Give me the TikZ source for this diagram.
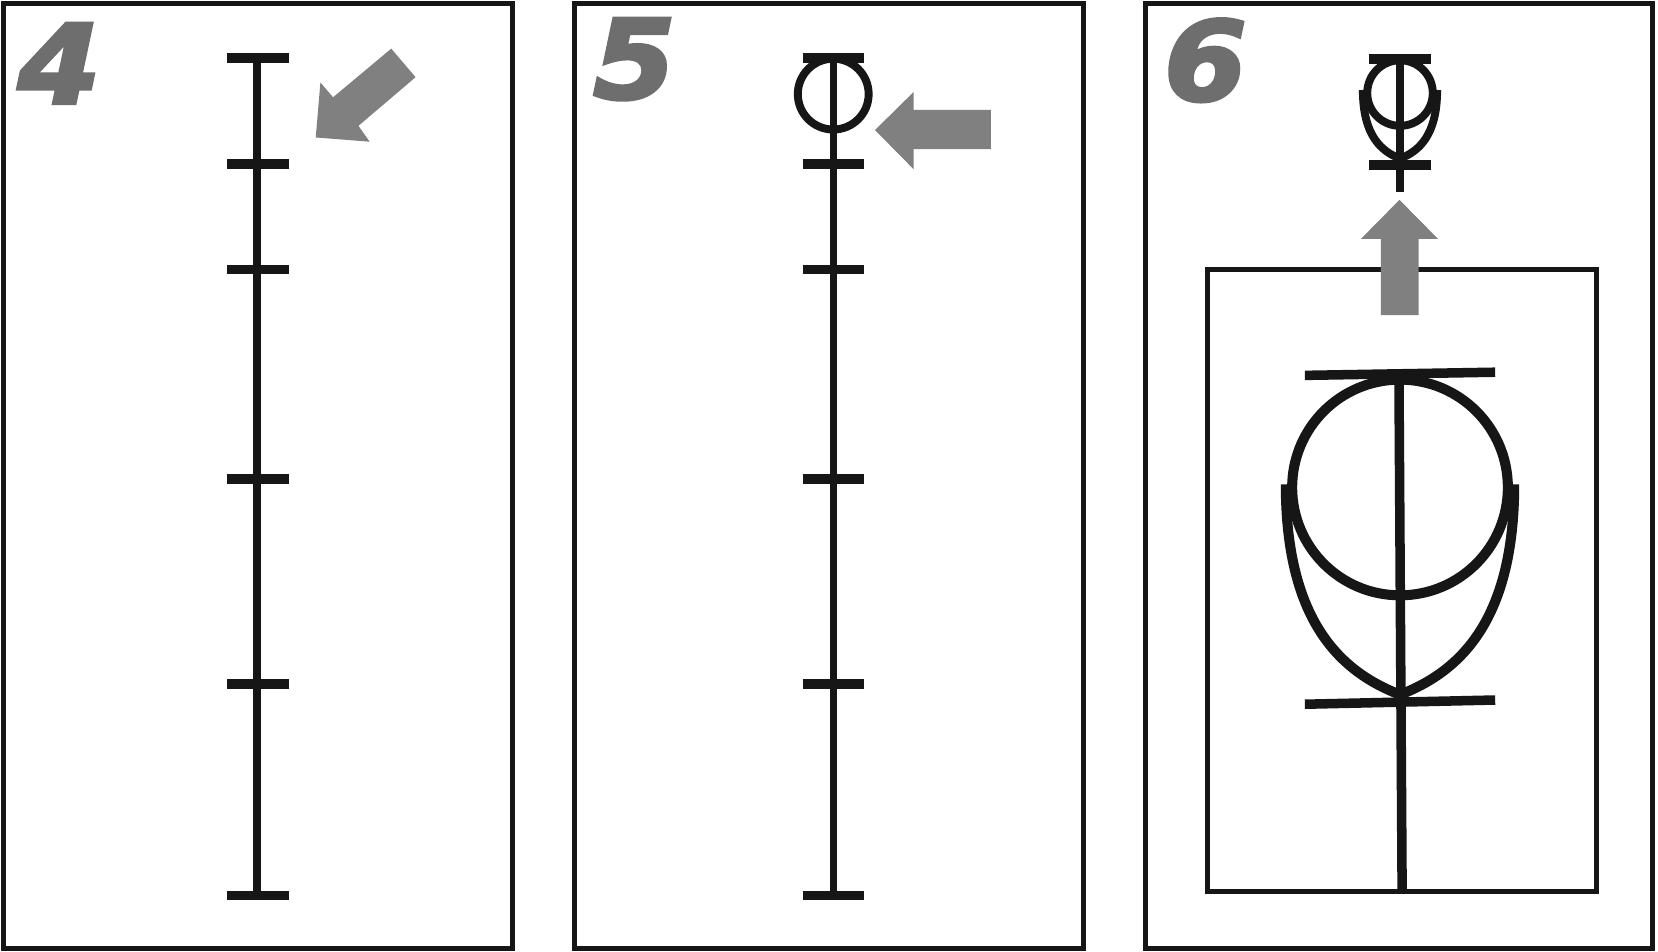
\documentclass[tikz,border=0pt]{standalone}
\usepackage{fontspec}
\newfontfamily\numfont[FakeBold=3]{DejaVu Sans}
\definecolor{ink}{HTML}{161616}
\definecolor{arrowgray}{HTML}{808080}
\definecolor{numgray}{HTML}{6E6E6E}
\begin{document}
\begin{tikzpicture}[x=1pt,y=-1pt,
  frame/.style={draw=ink,line width=5pt},
  pole/.style={draw=ink,line width=7pt},
  bar/.style={draw=ink,line width=9pt},
  ring/.style={draw=ink,line width=7.5pt},
  bigring/.style={draw=ink,line width=9.5pt},
  garrow/.style={fill=arrowgray,draw=none},
  num/.style={text=numgray,inner sep=0pt,xscale=1.08,font=\numfont\bfseries\itshape\fontsize{104}{104}\selectfont}]
\useasboundingbox (0,0) rectangle (1568,900);
\fill[white] (0,0) rectangle (1568,900);

% ---------- panel 4 ----------
\draw[frame] (3,3) rectangle (485,897);
\node[num] (n4) at (56,60) {4};
\draw[pole] (243,55) -- (243,847);
\foreach \y in {55,155,255,453,647,847}{
  \draw[bar] (215,\y) -- (273,\y);
}
\fill[garrow] (370,46) -- (393,73) -- (339,119) -- (349.6,134) -- (298.6,130) -- (303,78) -- (315,92) -- cycle;

% ---------- panel 5 ----------
\draw[frame] (543,3) rectangle (1025,897);
\node[num] (n5) at (600,56) {5};
\draw[pole] (788,55) -- (788,847);
\foreach \y in {55,155,255,453,647,847}{
  \draw[bar] (759,\y) -- (817,\y);
}
\draw[ring] (788,89) circle (33.5);
\fill[garrow] (937,104) -- (864,104) -- (864,87) -- (827.5,123) -- (864,160) -- (864,141) -- (937,141) -- cycle;

% ---------- panel 6 ----------
\draw[frame] (1083,3) rectangle (1563,897);
\node[num] (n6) at (1140,57) {6};
% small figure
\draw[pole] (1324,56) -- (1324,182);
\draw[bar] (1295,56) -- (1353,56);
\draw[bar] (1295,156) -- (1353,156);
\draw[ring] (1324,88) circle (31);
\draw[ring] (1288.9,85.3) .. controls (1288.9,128.2) and (1306.4,143.2) .. (1324,150);
\draw[ring] (1359.1,85.3) .. controls (1359.1,128.2) and (1341.6,143.2) .. (1324,150);
% inner frame
\draw[frame] (1142,255) rectangle (1510,843);
% big figure
\draw[pole,line width=9pt] (1323,355) -- (1326,843);
\draw[bar] (1234,355) -- (1414,352);
\draw[bar] (1234,666) -- (1414,662);
\draw[bigring] (1324,461) circle (102);
\draw[bigring] (1216,458) .. controls (1216,590) and (1270,636) .. (1324,657);
\draw[bigring] (1432,458) .. controls (1432,590) and (1378,636) .. (1324,657);
% arrow up
\fill[garrow] (1306,298) -- (1306,226) -- (1287,226) -- (1323.5,189) -- (1360,226) -- (1341.5,226) -- (1341.5,298) -- cycle;
\end{tikzpicture}
\end{document}
